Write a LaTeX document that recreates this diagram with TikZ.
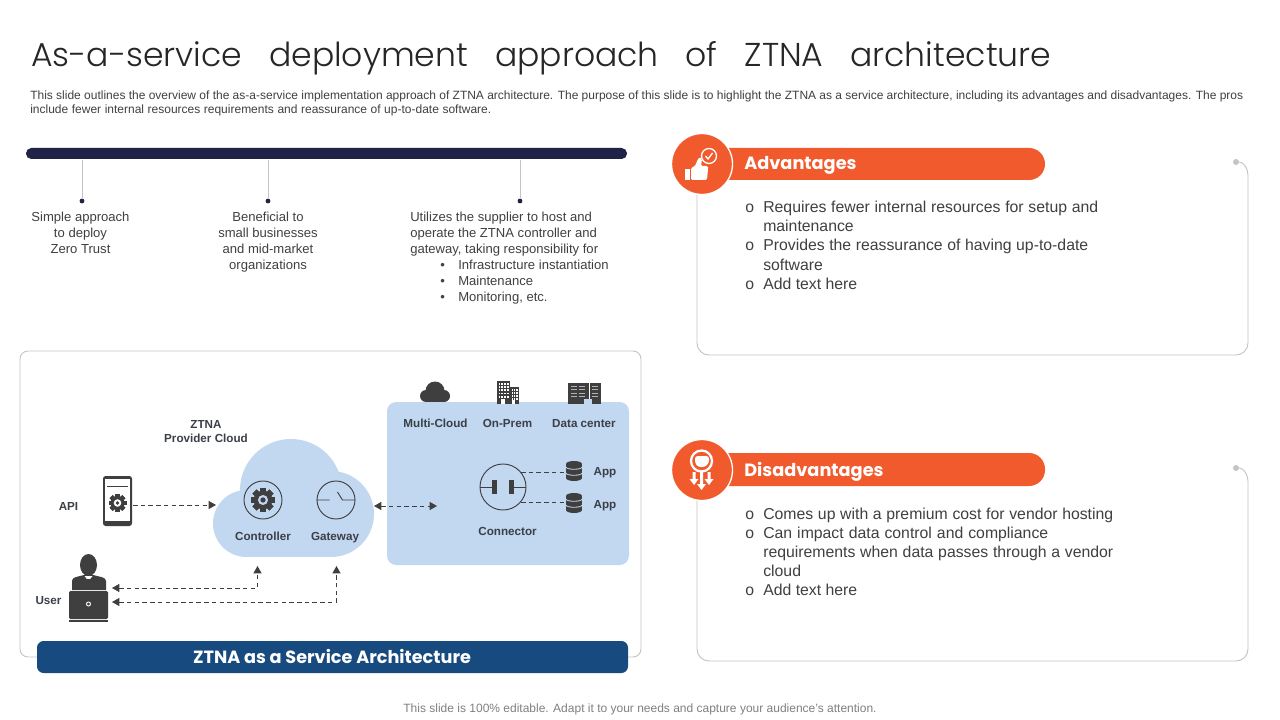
\documentclass[tikz,border=0pt]{standalone}
\usepackage{fontspec}
\setmainfont{Liberation Sans}
\newfontfamily\gothic{Poppins}
\newfontfamily\gothiclight{Poppins Light}
\usetikzlibrary{arrows.meta}
\definecolor{ink}{HTML}{404040}
\definecolor{lab}{HTML}{3B4047}
\definecolor{icon}{HTML}{3F3F3F}
\definecolor{navy}{HTML}{1E2347}
\definecolor{orng}{HTML}{F15A2C}
\definecolor{sky}{HTML}{C2D7F0}
\definecolor{banner}{HTML}{174A7E}
\definecolor{edge}{HTML}{C4C4C4}
\tikzset{
  x=0.75pt,y=-0.75pt,
  desc/.style={inner sep=0,anchor=base west,text=ink,font=\fontsize{9}{11}\selectfont},
  body/.style={inner sep=0,text=ink,font=\fontsize{9.8}{12}\selectfont,align=center},
  rtxt/.style={inner sep=0,anchor=base west,text=ink,font=\fontsize{11.85}{14.25}\selectfont},
  lbl/.style={inner sep=0,anchor=base,text=lab,font=\fontsize{8.75}{10.5}\selectfont\bfseries,align=center},
  head/.style={inner sep=0,anchor=base west,text=white,font=\gothic\fontsize{13.3}{16}\selectfont\bfseries},
  dashline/.style={draw=icon,line width=0.7pt,dash pattern=on 3.4pt off 2.4pt},
  onetip/.style={-{Triangle[length=5.5pt,width=6pt]}},
  bothtips/.style={{Triangle[length=5.5pt,width=6pt]}-{Triangle[length=5.5pt,width=6pt]}},
  stem/.style={draw=edge,line width=0.6pt},
  card/.style={draw=edge,line width=0.7pt,rounded corners=9pt},
}
\newcommand{\gearicon}[4]{% x y r colour-of-hole
  \foreach \a in {0,45,...,315}{
    \fill[icon,rotate around={\a:(#1,#2)}] (#1-0.24*#3,#2-#3) rectangle (#1+0.24*#3,#2+#3);}
  \fill[icon] (#1,#2) circle [radius=0.78*#3];
  \fill[#4] (#1,#2) circle [radius=0.42*#3];
  \fill[icon] (#1,#2) circle [radius=0.22*#3];
}
\newcommand{\dbicon}[2]{% x y
  \fill[icon] (#1,#2-7) ellipse [x radius=8,y radius=3];
  \fill[icon] (#1,#2+7) ellipse [x radius=8,y radius=3];
  \fill[icon] (#1-8,#2-7) rectangle (#1+8,#2+7);
  \draw[sky,line width=0.6pt] (#1-8,#2-4) .. controls (#1-8,#2-1) and (#1+8,#2-1) .. (#1+8,#2-4);
  \draw[sky,line width=0.6pt] (#1-8,#2+2) .. controls (#1-8,#2+5) and (#1+8,#2+5) .. (#1+8,#2+2);
}
\begin{document}
\begin{tikzpicture}
\useasboundingbox (0,0) rectangle (1280,720);
\fill[white] (0,0) rectangle (1280,720);
% title and description
\node[inner sep=0,anchor=base west,text=black!85] (title) at (31,67) {\gothiclight\fontsize{24.8}{30}\selectfont\makebox[765pt][s]{As-a-service deployment approach of ZTNA architecture}};
\node[desc] (d1) at (30,100) {\makebox[909.75pt][s]{This slide outlines the overview of the as-a-service implementation approach of ZTNA architecture. The purpose of this slide is to highlight the ZTNA as a service architecture, including its advantages and disadvantages. The pros}};
\node[desc] (d2) at (30,114) {\makebox[345.75pt][s]{include fewer internal resources requirements and reassurance of up-to-date software.}};
% timeline
\fill[navy,rounded corners=4pt] (26,148) rectangle (627,159);
\coordinate (s1) at (82,160); \coordinate (s2) at (268,160); \coordinate (s3) at (520,160);
\node[circle,fill=navy,inner sep=0,minimum size=3.6pt] (p1) at (82,201) {};
\node[circle,fill=navy,inner sep=0,minimum size=3.6pt] (p2) at (268,201) {};
\node[circle,fill=navy,inner sep=0,minimum size=3.6pt] (p3) at (520,201) {};
\draw[stem] (s1) -- (p1); \draw[stem] (s2) -- (p2); \draw[stem] (s3) -- (p3);
\node[body,anchor=north] (t1) at (80.5,211.5) {Simple approach\\to deploy\\Zero Trust};
\node[body,anchor=north] (t2) at (268,211.5) {Beneficial to\\small businesses\\and mid-market\\organizations};
\node[body,anchor=north west,align=left] (t3) at (410,211.5) {Utilizes the supplier to host and\\operate the ZTNA controller and\\gateway, taking responsibility for};
\node[body,anchor=base west] (b1d) at (440,269) {•}; \node[body,anchor=base west] (b1) at (458,269) {Infrastructure instantiation};
\node[body,anchor=base west] (b2d) at (440,285) {•}; \node[body,anchor=base west] (b2) at (458,285) {Maintenance};
\node[body,anchor=base west] (b3d) at (440,301) {•}; \node[body,anchor=base west] (b3) at (458,301) {Monitoring, etc.};
% architecture frame
\draw[edge,line width=0.7pt,rounded corners=6pt] (20,351) rectangle (641,657);
\fill[banner,rounded corners=5pt] (37,641) rectangle (628,673);
\node[inner sep=0,anchor=base,text=white,font=\gothic\fontsize{13.25}{16}\selectfont\bfseries] (bn) at (332,663) {ZTNA as a Service Architecture};
% provider cloud
\fill[sky] (291,490) circle [radius=51];
\fill[sky] (246.5,523.5) circle [radius=33.5];
\fill[sky] (331,514) circle [radius=43];
\fill[sky] (246,500) rectangle (332,557);
\node[lbl,anchor=center] (zt) at (206,432) {ZTNA\\Provider Cloud};
\coordinate (cl) at (216,505);
\coordinate (cr) at (374,506);
\node[circle,draw=icon,line width=0.7pt,inner sep=0,minimum size=28.5pt] (ctrl) at (263,500) {};
\gearicon{263}{500}{12}{sky}
\node[circle,draw=icon,line width=0.7pt,inner sep=0,minimum size=28.5pt] (gate) at (336,500) {};
\draw[icon,line width=0.7pt] (gate.west) -- ++(13,0) (gate.east) -- ++(-13,0) -- ++(-5,-8);
\node[lbl] (ctl) at (263,540) {Controller};
\node[lbl] (gtl) at (335,540) {Gateway};
% API
\node[lbl] (api) at (68.5,510) {API};
\node[rectangle,fill=icon,rounded corners=2pt,inner sep=0,minimum width=21.75pt,minimum height=37.5pt] (phone) at (117.5,501) {};
\fill[white] (105,479) rectangle (130,521);
\draw[icon,line width=0.6pt] (107,486) -- (128,486);
\gearicon{117.5}{503}{9}{white}
% user
\node[lbl] (usr) at (48.5,604) {User};
\fill[icon] (88.5,565) ellipse [x radius=8.5,y radius=11];
\fill[icon] (72,590) -- (72,581) .. controls (72,577) and (77,577) .. (84,575) -- (93,575) .. controls (100,577) and (106,577) .. (106,581) -- (106,590) -- cycle;
\fill[white] (84.5,576) -- (92.5,576) -- (88.5,581) -- cycle;
\fill[icon] (87.4,579) rectangle (89.6,588);
\fill[icon,rounded corners=1pt] (69,591) rectangle (108,619);
\fill[icon] (69,620) rectangle (108,622);
\draw[white,line width=0.7pt] (88.5,604) circle [radius=2];
\coordinate (u1) at (112,588);
\coordinate (u2) at (112,602);
\coordinate (ca) at (257.5,566);
\coordinate (ga) at (336.5,566);
\coordinate (pe) at (133,505);
\draw[dashline,onetip] (pe) -- (cl);
\draw[dashline,bothtips] (u1) -| (ca);
\draw[dashline,bothtips] (u2) -| (ga);
% right panel
\fill[sky,rounded corners=7pt] (387,402) rectangle (629,565);
\coordinate (pa) at (437,506);
\draw[dashline,bothtips] (cr) -- (pa);
\node[lbl] (mc) at (435.5,427) {Multi-Cloud};
\node[lbl] (op) at (507.5,427) {On-Prem};
\node[lbl] (dc) at (584,427) {Data center};
% multi-cloud icon
\fill[icon] (435,391) circle [radius=9.5];
\fill[icon] (426,396) circle [radius=6];
\fill[icon] (444,396) circle [radius=6];
\fill[icon] (426,395) rectangle (444,402);
% building icon
\fill[icon] (497,381) rectangle (510,404);
\fill[icon] (510,387) rectangle (519,404);
\foreach \i in {0,1,2,3}{\foreach \j in {0,1,2,3,4}{
  \fill[white] (498.5+2.8*\i,383+3.2*\j) rectangle (500.2+2.8*\i,384.8+3.2*\j);}}
\foreach \i in {0,1,2}{\foreach \j in {0,1,2,3}{
  \fill[white] (511.5+2.4*\i,389+3*\j) rectangle (512.8+2.4*\i,390.6+3*\j);}}
\fill[white] (501,399) rectangle (505,404);
\fill[white] (512,400) rectangle (515,404);
% data center icon
\fill[icon] (568,383) rectangle (589,404);
\fill[icon] (590,383) rectangle (601,404);
\fill[sky] (584,399) -- (592,399) -- (592,404) -- (584,404) -- cycle;
\foreach \q in {571,579,591.5}{\foreach \j in {0,1,2,3}{
  \fill[white!60!icon] (\q,385.5+3.5*\j) rectangle (\q+6,386.7+3.5*\j);}}
% connector
\node[circle,draw=icon,line width=0.7pt,inner sep=0,minimum size=34.5pt] (conn) at (503,487) {};
\fill[icon] (492,480) rectangle (496.5,494);
\fill[icon] (509,480) rectangle (513.5,494);
\draw[icon,line width=0.7pt] (conn.west) -- (492,487) (513.5,487) -- (conn.east);
\node[lbl] (cnl) at (507.5,535) {Connector};
\coordinate (a1) at (566,472); \coordinate (a2) at (566,502);
\coordinate (c1) at (521,472); \coordinate (c2) at (521,502);
\draw[dashline] (c1) -- (a1);
\draw[dashline] (c2) -- (a2);
\dbicon{574}{471}
\dbicon{574}{503}
\node[lbl] (ap1) at (605,475) {App};
\node[lbl] (ap2) at (605,508) {App};
% advantages card
\node[circle,fill=edge,inner sep=0,minimum size=4.5pt] (k1) at (1236,162) {};
\draw[edge,line width=0.7pt] (k1) .. controls (1243,162) and (1248,168) .. (1248,175);
\draw[card] (1248,175) -- (1248,355) -- (697,355) -- (697,190);
\fill[orng,rounded corners=12pt] (700,148) rectangle (1045,180);
\draw[white,line width=1pt,fill=orng] (702,164) circle [radius=30.5];
\node[head] (h1) at (744,170) {Advantages};
\fill[white] (685,169) rectangle (690,180);
\fill[white,rounded corners=1pt] (691,168) -- (695,166) -- (698,159) -- (700,157) -- (702,159) -- (701,166) -- (708,166) -- (708,169) -- (707,180) -- (691,180) -- cycle;
\draw[white,line width=1pt] (709,156) circle [radius=7.5];
\draw[white,line width=1pt] (705.5,156) -- (708,159) -- (712.5,153);
\node[rtxt] (a1o) at (745,213) {o}; \node[rtxt] (a1t) at (763,213) {\makebox[251.25pt][s]{Requires fewer internal resources for setup and}};
\node[rtxt] (a1u) at (763,232) {maintenance};
\node[rtxt] (a2o) at (745,251) {o}; \node[rtxt] (a2t) at (763,251) {\makebox[243.75pt][s]{Provides the reassurance of having up-to-date}};
\node[rtxt] (a2u) at (763,270) {software};
\node[rtxt] (a3o) at (745,289) {o}; \node[rtxt] (a3t) at (763,289) {Add text here};
% disadvantages card
\node[circle,fill=edge,inner sep=0,minimum size=4.5pt] (k2) at (1236,468) {};
\draw[edge,line width=0.7pt] (k2) .. controls (1243,468) and (1248,474) .. (1248,481);
\draw[card] (1248,481) -- (1248,661) -- (697,661) -- (697,496);
\fill[orng,rounded corners=12pt] (700,453) rectangle (1045,486);
\draw[white,line width=1pt,fill=orng] (702,470) circle [radius=30.5];
\node[head] (h2) at (744,476) {Disadvantages};
\draw[white,line width=1.7pt] (701.5,461) circle [radius=10.5];
\fill[white,rounded corners=2pt] (695,456) -- (709,456) -- (709,463) -- (705,467) -- (698,467) -- (695,463) -- cycle;
\fill[white] (692.5,472) rectangle (695.5,479) (689.5,479) -- (698.5,479) -- (694,485) -- cycle;
\fill[white] (707.5,472) rectangle (710.5,479) (704.5,479) -- (713.5,479) -- (709,485) -- cycle;
\fill[white] (700,472) rectangle (703,484) (697,484) -- (706,484) -- (701.5,490) -- cycle;
\node[rtxt] (d1o) at (745,519) {o}; \node[rtxt] (d1t) at (763,519) {\makebox[262.5pt][s]{Comes up with a premium cost for vendor hosting}};
\node[rtxt] (d2o) at (745,538) {o}; \node[rtxt] (d2t) at (763,538) {\makebox[213.75pt][s]{Can impact data control and compliance}};
\node[rtxt] (d2u) at (763,557) {\makebox[262.5pt][s]{requirements when data passes through a vendor}};
\node[rtxt] (d2v) at (763,576) {cloud};
\node[rtxt] (d3o) at (745,595) {o}; \node[rtxt] (d3t) at (763,595) {Add text here};
% footer
\node[inner sep=0,anchor=base,text=black!50,font=\fontsize{9}{11}\selectfont] (foot) at (640,712) {This slide is 100\% editable. Adapt it to your needs and capture your audience's attention.};
\end{tikzpicture}
\end{document}
